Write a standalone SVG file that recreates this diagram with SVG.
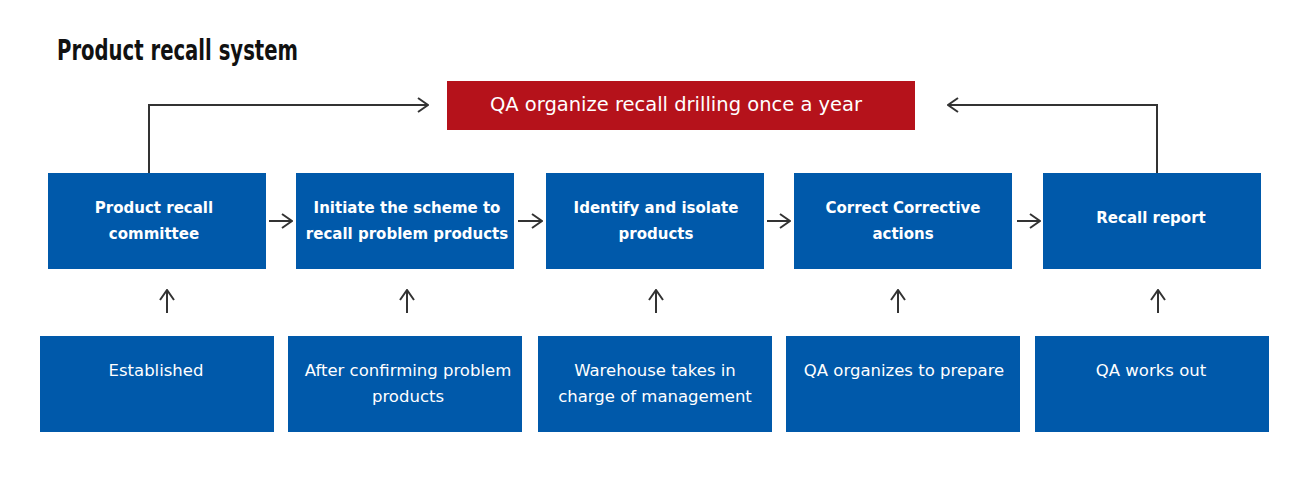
<svg xmlns="http://www.w3.org/2000/svg" width="1313" height="500" viewBox="0 0 1313 500">
<style>
.top{fill:#0059aa}
.bot{fill:#0059aa}
.tt{font-family:"DejaVu Sans","Liberation Sans",sans-serif;font-weight:bold;font-size:15px;fill:#fff;text-anchor:middle}
.bt{font-family:"DejaVu Sans","Liberation Sans",sans-serif;font-size:16.5px;fill:#fff;text-anchor:middle}
.ln{fill:none;stroke:#333;stroke-width:2}
</style>
<defs>
<marker id="ah" viewBox="0 0 12 16" refX="11" refY="8" markerWidth="12" markerHeight="16" markerUnits="userSpaceOnUse" orient="auto">
<path d="M1,1 L11,8 L1,15" fill="none" stroke="#333" stroke-width="2"/>
</marker>
</defs>
<rect width="1313" height="500" fill="#fff"/>
<text x="57" y="60" font-family="DejaVu Sans Condensed,'DejaVu Sans',sans-serif" font-weight="bold" font-size="28" textLength="241" lengthAdjust="spacingAndGlyphs" fill="#111">Product recall system</text>
<g id="drill">
<rect x="447" y="81" width="468" height="49" fill="#b5121b"/>
<text x="676" y="111" font-family="DejaVu Sans,Liberation Sans,sans-serif" font-size="19.5" fill="#fff" text-anchor="middle">QA organize recall drilling once a year</text>
</g>
<g id="n1"><rect class="top" x="48" y="173" width="218" height="96"/><text class="tt" x="154" y="213">Product recall</text><text class="tt" x="154" y="239">committee</text></g>
<g id="n2"><rect class="top" x="296" y="173" width="218" height="96"/><text class="tt" x="407" y="213">Initiate the scheme to</text><text class="tt" x="407" y="239">recall problem products</text></g>
<g id="n3"><rect class="top" x="546" y="173" width="218" height="96"/><text class="tt" x="656" y="213">Identify and isolate</text><text class="tt" x="656" y="239">products</text></g>
<g id="n4"><rect class="top" x="794" y="173" width="218" height="96"/><text class="tt" x="903" y="213">Correct Corrective</text><text class="tt" x="903" y="239">actions</text></g>
<g id="n5"><rect class="top" x="1043" y="173" width="218" height="96"/><text class="tt" x="1151" y="223">Recall report</text></g>
<g id="b1"><rect class="bot" x="40" y="336" width="234" height="96"/><text class="bt" x="156" y="376">Established</text></g>
<g id="b2"><rect class="bot" x="288" y="336" width="234" height="96"/><text class="bt" x="408" y="376">After confirming problem</text><text class="bt" x="408" y="402">products</text></g>
<g id="b3"><rect class="bot" x="538" y="336" width="234" height="96"/><text class="bt" x="655" y="376">Warehouse takes in</text><text class="bt" x="655" y="402">charge of management</text></g>
<g id="b4"><rect class="bot" x="786" y="336" width="234" height="96"/><text class="bt" x="904" y="376">QA organizes to prepare</text></g>
<g id="b5"><rect class="bot" x="1035" y="336" width="234" height="96"/><text class="bt" x="1151" y="376">QA works out</text></g>
<g id="connectors">
<path class="ln" d="M149,173 V105 H428" marker-end="url(#ah)"/>
<path class="ln" d="M1157,173 V105 H948" marker-end="url(#ah)"/>
<path class="ln" d="M269,221 H292" marker-end="url(#ah)"/>
<path class="ln" d="M518,221 H542" marker-end="url(#ah)"/>
<path class="ln" d="M767,221 H790" marker-end="url(#ah)"/>
<path class="ln" d="M1017,221 H1040" marker-end="url(#ah)"/>
<path class="ln" d="M167,313 V290" marker-end="url(#ah)"/>
<path class="ln" d="M407,313 V290" marker-end="url(#ah)"/>
<path class="ln" d="M656,313 V290" marker-end="url(#ah)"/>
<path class="ln" d="M898,313 V290" marker-end="url(#ah)"/>
<path class="ln" d="M1158,313 V290" marker-end="url(#ah)"/>
</g>
</svg>
